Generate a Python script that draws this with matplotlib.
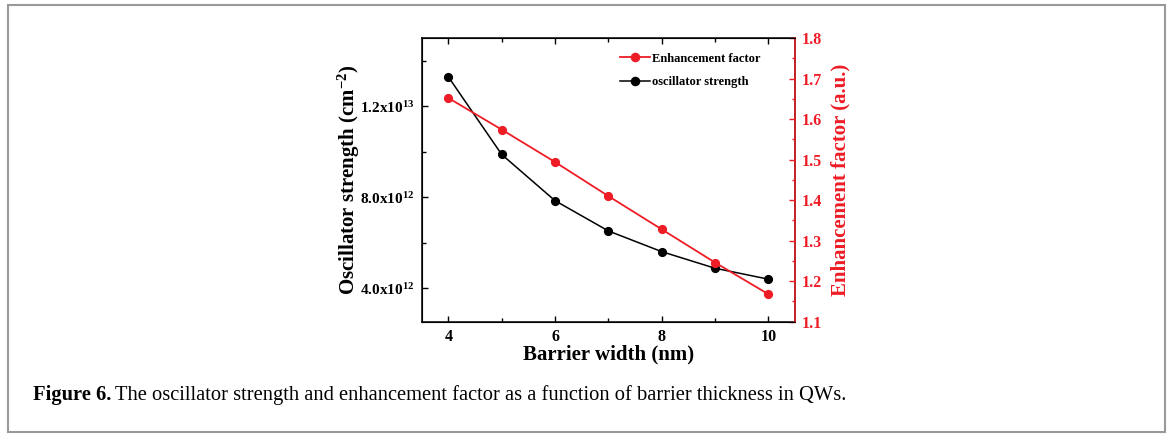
import numpy as np
import matplotlib
matplotlib.use('Agg')
import matplotlib.pyplot as plt
from matplotlib.ticker import MultipleLocator, FuncFormatter
from matplotlib.patches import Rectangle

plt.rcParams['font.family'] = ['Liberation Serif', 'DejaVu Serif']
plt.rcParams['font.weight'] = 'bold'
plt.rcParams['axes.labelweight'] = 'bold'
plt.rcParams['mathtext.fontset'] = 'custom'
plt.rcParams['mathtext.rm'] = 'Liberation Serif:bold'
plt.rcParams['mathtext.bf'] = 'Liberation Serif:bold'
plt.rcParams['mathtext.default'] = 'bf'

barrier = [4, 5, 6, 7, 8, 9, 10]  # nm
osc_strength = [1.329e13, 9.88e12, 7.85e12, 6.52e12, 5.61e12, 4.88e12, 4.40e12]  # cm^-2
enhancement = [1.652, 1.574, 1.494, 1.410, 1.328, 1.246, 1.168]  # a.u.

red = '#ee1c25'

fig = plt.figure(figsize=(11.69, 4.34), dpi=100)
W, H = 1169, 434
fig.patches.append(Rectangle((8 / W, 2 / H), 1157 / W, 427 / H, transform=fig.transFigure,
                             fill=False, edgecolor='#999999', lw=1.5))

ax = fig.add_axes([421.7 / W, 1 - 321.7 / H, (795 - 421.7) / W, (321.7 - 38) / H])
ax2 = ax.twinx()

l1, = ax.plot(barrier, osc_strength, '-o', color='black', lw=1.1, ms=5.6, label='oscillator strength')
l2, = ax2.plot(barrier, enhancement, '-o', color=red, lw=1.3, ms=5.6, label='Enhancement factor')

ax.set_xlim(3.5, 10.5)
ax.set_ylim(2.53e12, 1.5e13)
ax2.set_ylim(1.1, 1.8)

ax.xaxis.set_major_locator(MultipleLocator(2))
ax.xaxis.set_minor_locator(MultipleLocator(1))
ax.yaxis.set_major_locator(MultipleLocator(4e12))
ax.yaxis.set_minor_locator(MultipleLocator(2e12))
ax2.yaxis.set_major_locator(MultipleLocator(0.1))
ax2.yaxis.set_minor_locator(MultipleLocator(0.05))


def sci(v, pos):
    if v <= 0:
        return ''
    e = int(np.floor(np.log10(v) + 1e-9))
    return f'{v / 10**e:.1f}x10$^{{{e}}}$'


ax.yaxis.set_major_formatter(FuncFormatter(sci))
ax.tick_params(axis='x', which='both', direction='in', top=True, labelsize=11.5, pad=5)
ax.tick_params(axis='y', which='both', direction='in', labelsize=11, pad=5)
ax.tick_params(which='major', length=4, width=1)
ax.tick_params(which='minor', length=3, width=1)
ax2.tick_params(axis='y', which='both', direction='in', colors=red, labelsize=11.5, pad=5)
ax2.tick_params(which='major', length=4, width=1)
ax2.tick_params(which='minor', length=2.5, width=1)
ax2.spines['right'].set_color(red)
for s in ax.spines.values():
    s.set_linewidth(1.1)
ax2.spines['right'].set_linewidth(1.1)

ax.set_xlabel('Barrier width (nm)', fontsize=15, labelpad=0)
ax.set_ylabel('Oscillator strength (cm$^{-2}$)', fontsize=15, labelpad=-1)
ax2.set_ylabel('Enhancement factor (a.u.)', fontsize=15, color=red, labelpad=6)

ax2.legend(handles=[l2, l1], loc='upper left', bbox_to_anchor=(0.531, 0.948), frameon=False,
           borderaxespad=0, borderpad=0, fontsize=9, handlelength=2.4, handletextpad=0.2,
           labelspacing=0.9, markerscale=1.05)

cap_y = 1 - 395 / H
t1 = fig.text(33 / W, cap_y, 'Figure 6.', fontsize=14.8, weight='bold', va='center')
r = fig.canvas.get_renderer()
bb = t1.get_window_extent(r)
fig.text((bb.x1 + 4) / W, cap_y,
         'The oscillator strength and enhancement factor as a function of barrier thickness in QWs.',
         fontsize=14.8, weight='normal', va='center')

fig.savefig('out.png', dpi=100)
